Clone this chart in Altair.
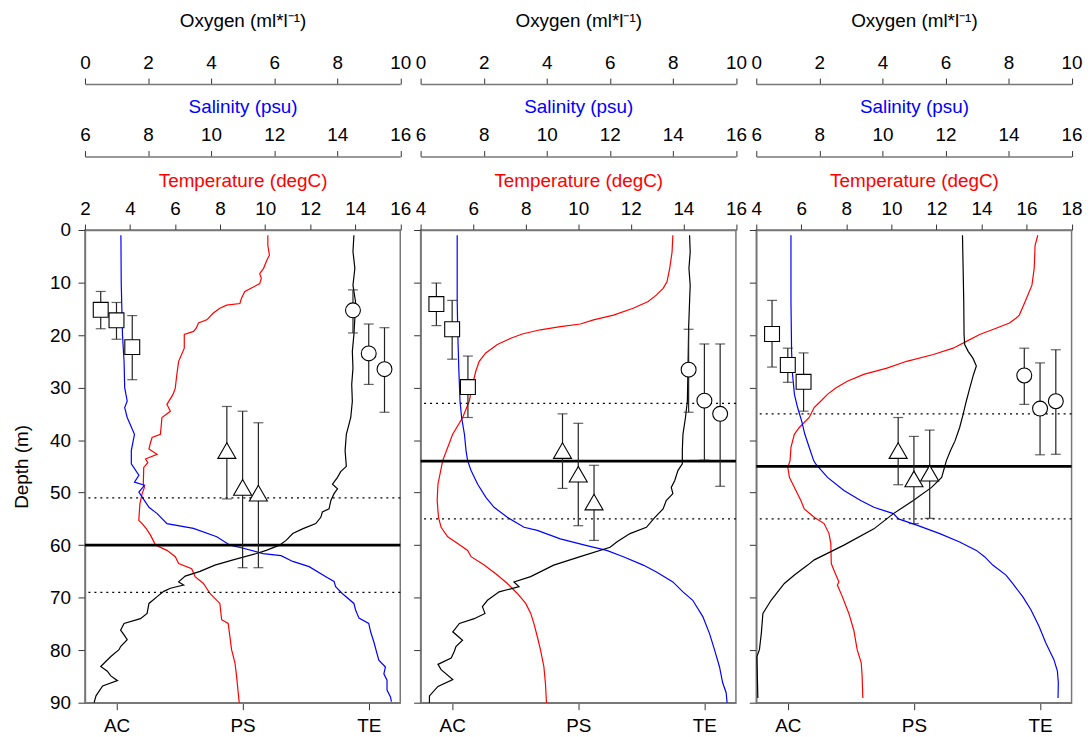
import altair as alt
import pandas as pd

FONT = "Liberation Sans"
RED = "#ff0000"
BLUE = "#0000ff"
BLACK = "#000000"

# ---------------- axis ticks / labels ----------------
OXY_DOMAIN = [0, 10]
OXY_TICKS = [0, 2, 4, 6, 8, 10]
SAL_DOMAIN = [6, 16]
SAL_TICKS = [6, 8, 10, 12, 14, 16]
TEMP_DOMAINS = [[2, 16], [4, 16], [4, 18]]
TEMP_TICKS = [[2, 4, 6, 8, 10, 12, 14, 16], [4, 6, 8, 10, 12, 14, 16], [4, 6, 8, 10, 12, 14, 16, 18]]
DEPTH_DOMAIN = [0, 90]
DEPTH_TICKS = [0, 10, 20, 30, 40, 50, 60, 70, 80, 90]
CATEGORY_POS = [1, 5, 9]
CATEGORY_LABELS = ["AC", "PS", "TE"]

# ---------------- panel 1 profiles ----------------
P1_T_D = [1, 2.9, 4.8, 5.7, 7.3, 8.3, 9.2, 10.2, 11.7, 13, 14, 14.3, 14.9, 15.8, 17.1, 17.7, 18.7, 19.3, 19.9, 22.5,
          25, 27.5, 30.1, 31.3, 33.2, 34.5, 35.7, 38.9, 39.5, 40.5, 41.7, 42.7, 43.6, 44.3, 45.2, 48.4, 49.0, 50.2,
          52.1, 55.3, 55.9, 56.9, 58.1, 60, 61, 62.2, 63.5, 64.5, 66, 67.3, 69.2, 71.1, 74.2, 74.9, 79.9, 82.4, 84.9, 90]
P1_T = [10.12, 10.12, 10.19, 10.08, 9.93, 9.76, 9.83, 9.76, 9.10, 8.95, 8.88, 8.29, 7.99, 7.70, 7.41, 7.04, 6.94, 6.82,
        6.41, 6.41, 6.16, 6.08, 6.01, 5.91, 5.64, 5.79, 5.42, 5.35, 4.98, 4.91, 4.84, 5.20, 4.69, 4.79, 4.61, 4.59, 4.64,
        4.54, 4.44, 4.39, 4.54, 4.73, 4.91, 5.13, 5.64, 6.01, 6.16, 6.74, 6.89, 7.26, 7.55, 7.99, 8.07, 8.36, 8.51, 8.66,
        8.73, 8.85]
P1_S_D = [1, 10, 20, 25, 30, 32.6, 33.8, 35.7, 38.9, 42, 44.5, 46.7, 48, 48.6, 49.9, 50.9, 52.8, 54, 55.9, 56.8, 58.4,
          60, 60.6, 61.6, 62, 63.1, 64.1, 66, 66.9, 67.9, 69.2, 71.1, 72.3, 73.9, 74.9, 76.5, 78.4, 81.9, 83.2, 84.5,
          85.7, 87.6, 88.9, 89.8]
P1_S = [7.14, 7.15, 7.19, 7.24, 7.26, 7.34, 7.26, 7.34, 7.57, 7.47, 7.47, 7.71, 7.57, 7.89, 7.71, 7.82, 8.03, 8.29, 8.60,
        9.44, 10.18, 10.60, 11.02, 11.65, 12.22, 12.59, 13.11, 13.64, 13.90, 13.95, 14.16, 14.53, 14.58, 14.69, 15.0,
        15.06, 15.16, 15.32, 15.53, 15.48, 15.58, 15.58, 15.69, 15.72]
P1_O_D = [1, 4.1, 7.3, 10.5, 13.6, 16.8, 19.9, 23.1, 26.3, 29.4, 32.6, 35.7, 38.9, 42, 45, 46, 47.1, 48.4, 49.3, 50.2,
          51.5, 53.1, 53.7, 54.7, 55.9, 56.9, 57.8, 59.1, 60, 61, 61.6, 62.8, 63.8, 65, 65.9, 67, 67.6, 68.2, 68.8, 69.8,
          71.1, 73, 74, 74.9, 76.2, 77.1, 78, 79.3, 79.9, 81.2, 83.1, 84, 84.9, 85.8, 86.8, 88.7, 90]
P1_O = [8.53, 8.50, 8.56, 8.50, 8.58, 8.56, 8.53, 8.48, 8.50, 8.46, 8.48, 8.43, 8.29, 8.25, 8.29, 8.11, 8.01, 7.85, 8.01,
        7.90, 7.80, 7.74, 7.53, 7.48, 7.32, 6.90, 6.59, 6.38, 6.17, 5.75, 5.44, 4.70, 4.12, 3.65, 3.18, 2.97, 3.13, 2.71,
        2.50, 2.29, 2.03, 1.97, 1.76, 1.24, 1.13, 1.24, 1.34, 1.13, 1.08, 0.82, 0.50, 0.71, 0.82, 1.03, 0.56, 0.35, 0.29]

# ---------------- panel 2 profiles ----------------
P2_T_D = [1, 4.2, 7.3, 9.8, 11.1, 12.4, 13.6, 14.9, 16.2, 17.1, 17.9, 18.4, 19.0, 19.8, 20.6, 21.8, 23.4, 25.0, 26.9,
          29.4, 32.6, 35.7, 38.9, 41.4, 43.9, 48.4, 51.5, 54.7, 56.6, 58.4, 59.7, 61.0, 62.2, 63.8, 65.7, 67.3, 69.2,
          71.1, 73.0, 74.9, 77.4, 79.9, 83.1, 86.3, 90]
P2_T = [13.60, 13.57, 13.48, 13.38, 13.23, 12.97, 12.66, 12.09, 11.34, 10.58, 10.08, 9.32, 8.56, 7.87, 7.43, 6.92, 6.48,
        6.23, 6.10, 5.98, 5.85, 5.60, 5.22, 5.03, 4.84, 4.66, 4.63, 4.68, 4.78, 5.03, 5.41, 5.79, 5.92, 6.42, 6.92, 7.30,
        7.68, 8.00, 8.19, 8.31, 8.44, 8.56, 8.69, 8.75, 8.79]
P2_S_D = [1, 13.6, 19.9, 26.3, 32.6, 35.7, 38.9, 42.0, 43.9, 45.8, 48.4, 50.9, 52.8, 54.7, 56.6, 57.2, 58.8, 60.1, 61.0,
          62.2, 63.8, 65.1, 67.0, 68.9, 70.5, 73.6, 76.8, 79.9, 83.2, 86.2, 88.1, 90]
P2_S = [7.16, 7.16, 7.18, 7.21, 7.25, 7.30, 7.39, 7.44, 7.49, 7.60, 7.81, 8.07, 8.33, 8.75, 9.28, 9.70, 10.43, 11.27,
        11.90, 12.43, 13.06, 13.48, 14.0, 14.32, 14.63, 14.95, 15.16, 15.32, 15.48, 15.58, 15.69, 15.72]
P2_O_D = [1, 4.2, 7.3, 10.5, 13.6, 18.7, 26.3, 32.6, 35.7, 38.9, 42.0, 44.5, 45.8, 47.7, 49.0, 50.2, 51.5, 53.1, 54.7,
          56.6, 57.8, 59.4, 60.4, 62.2, 63.8, 66.0, 67.0, 67.9, 68.9, 70.5, 71.7, 73.0, 74.0, 74.9, 76.5, 78.1, 79.3,
          80.2, 81.5, 82.7, 83.7, 85.6, 86.9, 88.7, 90]
P2_O = [8.53, 8.55, 8.51, 8.55, 8.53, 8.50, 8.48, 8.46, 8.40, 8.32, 8.30, 8.30, 8.16, 8.06, 7.95, 8.00, 7.79, 7.69, 7.43,
        7.16, 6.64, 6.22, 6.01, 5.06, 4.22, 3.49, 2.96, 3.12, 2.49, 2.12, 1.96, 2.04, 1.70, 1.23, 1.02, 1.33, 1.12, 1.07,
        0.97, 0.55, 0.65, 1.02, 0.55, 0.28, 0.28]

# ---------------- panel 3 profiles ----------------
P3_T_D = [1, 2.9, 7.3, 10.5, 13.6, 16.2, 16.8, 17.7, 18.7, 19.9, 21.2, 22.5, 23.7, 25.0, 26.3, 27.5, 28.8, 30.1, 31.3,
          32.6, 33.8, 35.7, 37.6, 38.9, 41.4, 43.9, 45.2, 47.1, 49.6, 51.5, 53.1, 54.7, 55.9, 57.8, 59.7, 63.5, 65.1,
          67.0, 67.6, 69.8, 73.0, 76.2, 79.9, 82.4, 84.9, 89.1]
P3_T = [16.50, 16.38, 16.34, 16.24, 15.94, 15.68, 15.53, 15.24, 14.65, 13.92, 13.33, 12.74, 11.86, 10.68, 9.80, 8.77,
        8.04, 7.53, 7.16, 6.86, 6.57, 6.35, 5.91, 5.69, 5.54, 5.50, 5.40, 5.47, 5.76, 5.98, 6.13, 6.57, 7.01, 7.23, 7.31,
        7.33, 7.48, 7.67, 7.60, 7.82, 8.11, 8.33, 8.48, 8.66, 8.70, 8.73]
P3_S_D = [1, 13.6, 23.1, 27.5, 31.3, 33.8, 36.4, 38.9, 41.4, 43.9, 44.6, 47.1, 49.6, 51.5, 52.8, 54.0, 55.0, 56.2, 57.8,
          59.4, 61.0, 62.2, 63.8, 65.7, 67.3, 69.8, 72.3, 75.5, 78.6, 81.8, 84.0, 86.2, 89.1]
P3_S = [7.10, 7.10, 7.12, 7.15, 7.21, 7.31, 7.44, 7.54, 7.68, 7.82, 7.89, 8.26, 8.78, 9.31, 9.73, 10.35, 10.51, 11.09,
        11.82, 12.45, 12.98, 13.24, 13.50, 13.92, 14.13, 14.45, 14.71, 14.97, 15.18, 15.44, 15.55, 15.58, 15.57]
P3_O_D = [1, 7.3, 13.6, 19.9, 21.8, 23.1, 24.4, 25.9, 27.5, 30.1, 32.6, 35.1, 37.6, 40.2, 42.0, 43.9, 47.1, 49.0, 51.5,
          54.0, 56.9, 60.0, 62.8, 63.8, 65.7, 67.3, 70.5, 73.0, 76.8, 79.9, 81.2, 89.1]
P3_O = [6.54, 6.56, 6.58, 6.59, 6.61, 6.72, 6.87, 6.98, 6.89, 6.77, 6.66, 6.56, 6.45, 6.30, 6.16, 6.03, 5.88, 5.56, 4.98,
        4.35, 3.73, 2.78, 1.84, 1.63, 1.21, 0.89, 0.47, 0.21, 0.16, 0.10, 0.02, 0.05]

# ---------------- reference depth lines ----------------
THICK_DEPTH = [60, 44, 45]
DOTTED_DEPTHS = [[51, 69], [33, 55], [35, 55]]

# ---------------- species depth distributions (mean, range) ----------------
AC_X = [0.5, 1.0, 1.5]
PS_X = [4.5, 5.0, 5.5]
TE_X = [8.5, 9.0, 9.5]
AC_Y = [[15.2, 17.2, 22.3], [14.1, 18.9, 29.9], [19.8, 25.7, 28.9]]
AC_LO = [[11.7, 13.8, 16.3], [10.1, 13.4, 24.0], [13.4, 22.5, 23.4]]
AC_HI = [[18.8, 20.8, 28.5], [18.2, 24.6, 35.7], [26.1, 29.0, 34.5]]
PS_Y = [[42.0, 49.0, 50.1], [42.0, 46.5, 51.8], [42.0, 47.4, 46.3]]
PS_LO = [[33.6, 34.5, 36.7], [35.0, 36.8, 44.8], [35.7, 39.3, 38.1]]
PS_HI = [[51.2, 64.3, 64.3], [49.2, 56.3, 59.1], [48.5, 55.9, 54.9]]
TE_Y = [[15.3, 23.5, 26.5], [26.6, 32.5, 35.0], [27.7, 34.0, 32.6]]
TE_LO = [[11.4, 17.9, 18.6], [18.9, 21.7, 21.7], [22.5, 25.3, 22.8]]
TE_HI = [[19.6, 29.4, 34.7], [34.7, 43.8, 48.8], [33.2, 42.8, 42.7]]

PROFILES = [
    (P1_T_D, P1_T, P1_S_D, P1_S, P1_O_D, P1_O),
    (P2_T_D, P2_T, P2_S_D, P2_S, P2_O_D, P2_O),
    (P3_T_D, P3_T, P3_S_D, P3_S, P3_O_D, P3_O),
]

PANEL_W = 317.5
PANEL_H = 476
FS = 19

label_expr = "'" + CATEGORY_LABELS[-1] + "'"
for pos, lab in reversed(list(zip(CATEGORY_POS[:-1], CATEGORY_LABELS[:-1]))):
    label_expr = f"datum.value == {pos} ? '{lab}' : " + label_expr


def y_enc(field, first):
    if first:
        axis = alt.Axis(values=DEPTH_TICKS, title="Depth (m)", tickSize=7, labelPadding=7.5, titlePadding=18)
    else:
        axis = alt.Axis(values=DEPTH_TICKS, labels=False, title=None, tickSize=7)
    return alt.Y(f"{field}:Q", scale=alt.Scale(domain=DEPTH_DOMAIN, reverse=True, nice=False, zero=False), axis=axis)


def top_axis(title, ticks, offset, color, title_pad):
    return alt.Axis(orient="top", offset=offset, values=ticks, title=title, titleColor=color, tickSize=6,
                    labelPadding=6, titlePadding=title_pad, labelFlush=False, labelOverlap=False)


def curve(depths, values, domain, color, axis, first):
    df = pd.DataFrame({"depth": depths, "v": values})
    return alt.Chart(df).mark_line(color=color, strokeWidth=1.2).encode(
        x=alt.X("v:Q", scale=alt.Scale(domain=domain, nice=False, zero=False), axis=axis),
        y=y_enc("depth", first),
        order=alt.Order("depth:Q"),
    )


def marker_x(axis):
    return alt.X("x:Q", scale=alt.Scale(domain=OXY_DOMAIN, nice=False, zero=False), axis=axis)


def panel(i):
    first = i == 0
    td, tv, sd, sv, od, ov = PROFILES[i]
    layers = [
        curve(td, tv, TEMP_DOMAINS[i], RED, top_axis("Temperature (degC)", TEMP_TICKS[i], 0, RED, 9), first),
        curve(sd, sv, SAL_DOMAIN, BLUE, top_axis("Salinity (psu)", SAL_TICKS, 74, BLUE, 9), first),
        curve(od, ov, OXY_DOMAIN, BLACK, top_axis("Oxygen (ml*l⁻¹)", OXY_TICKS, 147, BLACK, 23), first),
    ]
    layers.append(alt.Chart(pd.DataFrame({"d": [THICK_DEPTH[i]]})).mark_rule(color="black", strokeWidth=2.8)
                  .encode(y=y_enc("d", first)))
    layers.append(alt.Chart(pd.DataFrame({"d": DOTTED_DEPTHS[i]})).mark_rule(color="black", strokeWidth=1.3,
                                                                             strokeDash=[2, 4])
                  .encode(y=y_enc("d", first)))
    rows = []
    for g, xs, ys, los, his in (("AC", AC_X, AC_Y, AC_LO, AC_HI), ("PS", PS_X, PS_Y, PS_LO, PS_HI),
                                 ("TE", TE_X, TE_Y, TE_LO, TE_HI)):
        for x, y, lo, hi in zip(xs, ys[i], los[i], his[i]):
            rows.append({"g": g, "x": x, "y": y, "lo": lo, "hi": hi})
    mdf = pd.DataFrame(rows)
    bottom_axis = alt.Axis(orient="bottom", values=CATEGORY_POS, labelExpr=label_expr, title=None, tickSize=7,
                           labelPadding=7, labelFlush=False)
    base = alt.Chart(mdf)
    layers.append(base.mark_rule(color="#222222", strokeWidth=1.2).encode(
        x=marker_x(bottom_axis), y=y_enc("lo", first), y2="hi:Q"))
    layers.append(base.mark_tick(orient="horizontal", size=10, thickness=1.2, color="#222222").encode(
        x=marker_x(None), y=y_enc("lo", first)))
    layers.append(base.mark_tick(orient="horizontal", size=10, thickness=1.2, color="#222222").encode(
        x=marker_x(None), y=y_enc("hi", first)))
    for g, shape, size in (("AC", "square", 225), ("PS", "triangle-up", 330), ("TE", "circle", 225)):
        layers.append(alt.Chart(mdf[mdf["g"] == g]).mark_point(
            shape=shape, size=size, filled=True, fill="white", stroke="black", strokeWidth=1.1, opacity=1
        ).encode(x=marker_x(None), y=y_enc("y", first)))
    return alt.layer(*layers).resolve_scale(x="independent").properties(width=PANEL_W, height=PANEL_H)


chart = alt.hconcat(panel(0), panel(1), panel(2), spacing=20, bounds="flush").properties(
    padding={"left": 3.5, "top": 0, "right": 0, "bottom": 0}
).configure_view(stroke="#777777", strokeWidth=1.5).configure_axis(
    labelFont=FONT, labelFontSize=FS, labelColor="black", titleFont=FONT, titleFontSize=FS,
    titleFontWeight="normal", domainColor="#777777", domainWidth=1.5, tickColor="#333333", tickWidth=1, grid=False
)

chart.save("out.html", embed_options={"renderer": "svg", "actions": False})
